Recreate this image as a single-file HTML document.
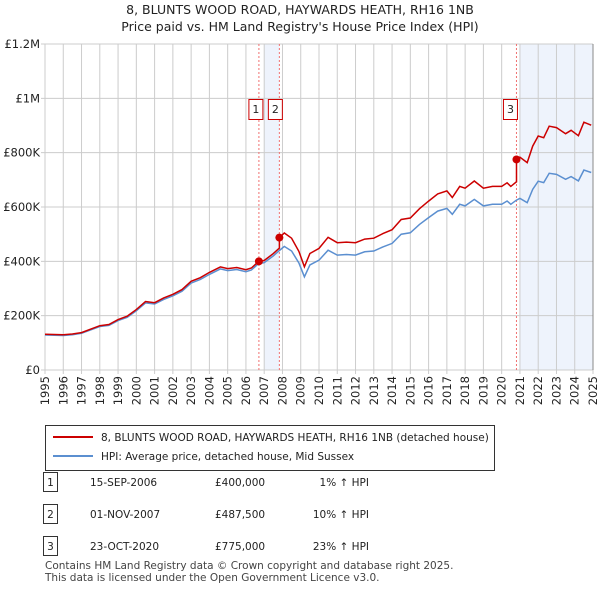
<!DOCTYPE html>
<html><head><meta charset="utf-8"><style>
body{margin:0;background:#fff;font-family:"Liberation Sans","DejaVu Sans",sans-serif;}
#wrap{position:relative;width:600px;height:590px;overflow:hidden;}
svg text{font-family:"DejaVu Sans","Liberation Sans",sans-serif;}
</style></head><body>
<div id="wrap">
<svg id="chart" width="600" height="590"></svg>
</div>
<script>
const hpiYears=[1995,1996,1996.5,1997,1998,1998.5,1999,1999.5,2000,2000.5,2001,2001.5,2002,2002.5,2003,2003.5,2004,2004.6,2005,2005.5,2006,2006.3,2006.7,2007,2007.5,2007.83,2008.1,2008.5,2008.9,2009.2,2009.5,2010,2010.5,2011,2011.5,2012,2012.5,2013,2013.5,2014,2014.5,2015,2015.5,2016,2016.5,2017,2017.3,2017.7,2018,2018.5,2019,2019.5,2020,2020.3,2020.5,2020.8,2021,2021.4,2021.7,2022,2022.3,2022.6,2023,2023.5,2023.8,2024.2,2024.5,2024.9];
const hpiValues=[129,127,130,135,160,164,182,194,218,247,243,260,273,290,320,333,352,372,366,370,362,368,392,395,420,440,455,438,394,343,387,404,441,423,425,423,435,438,453,466,500,505,536,561,585,595,573,610,604,628,604,610,610,622,610,625,632,616,665,695,690,724,720,702,712,696,736,727];
const saleYears=[2006.71,2007.83,2020.81];
const salePrices=[400000,487500,775000];
const saleLabels=["1","2","3"];
const yTicks=[0,200000,400000,600000,800000,1000000,1200000];
const yTickLabels=["£0","£200K","£400K","£600K","£800K","£1M","£1.2M"];
const xTicks=[];for(let y=1995;y<=2025;y++)xTicks.push(y);

const NS="http://www.w3.org/2000/svg";
const svg=document.getElementById('chart');
const X0=45,X1=593,Y0=370,Y1=44;
const xs=y=>X0+(y-1995)/30*(X1-X0);
const ys=v=>Y0-v/1200000*(Y0-Y1);
function el(t,a,p){const e=document.createElementNS(NS,t);for(const k in a)e.setAttribute(k,a[k]);(p||svg).appendChild(e);return e;}
function interp(y){for(let i=1;i<hpiYears.length;i++){if(y<=hpiYears[i]){const t=(y-hpiYears[i-1])/(hpiYears[i]-hpiYears[i-1]);return hpiValues[i-1]+t*(hpiValues[i]-hpiValues[i-1]);}}return hpiValues[hpiValues.length-1];}

let t=el('text',{x:300,y:14,'text-anchor':'middle','font-size':12.5,fill:'#222'});t.textContent="8, BLUNTS WOOD ROAD, HAYWARDS HEATH, RH16 1NB";

t=el('text',{x:300,y:31,'text-anchor':'middle','font-size':12.5,fill:'#222'});t.textContent="Price paid vs. HM Land Registry's House Price Index (HPI)";


let r=el('rect',{x:xs(2007),y:Y1,width:xs(saleYears[1])-xs(2007),height:Y0-Y1,fill:'#eef3fc'});

r=el('rect',{x:xs(2021),y:Y1,width:X1-xs(2021),height:Y0-Y1,fill:'#eef3fc'});


xTicks.forEach((y,i)=>{const l=el('line',{x1:xs(y),x2:xs(y),y1:Y1,y2:Y0+4,stroke:'#ccc','stroke-width':1});

const tx=el('text',{transform:`translate(${xs(y)+4},${Y0+6}) rotate(-90)`,'text-anchor':'end','font-size':11.5,fill:'#222'});tx.textContent=y;
});
yTicks.forEach((v,i)=>{const l=el('line',{x1:X0-4,x2:X1,y1:ys(v),y2:ys(v),stroke:'#ccc','stroke-width':1});

const tx=el('text',{x:40,y:ys(v)+4,'text-anchor':'end','font-size':11.5,fill:'#222'});tx.textContent=yTickLabels[i];
});
let ax=el('line',{x1:X1,x2:X1,y1:Y1,y2:Y0,stroke:'#888'});

const boxOffsets=[-10,-11,-13];
saleYears.forEach((y,i)=>{const l=el('line',{x1:xs(y),x2:xs(y),y1:Y1,y2:Y0,stroke:'#f07070','stroke-dasharray':'2,2'});

const bx=xs(y)+boxOffsets[i];
const b=el('rect',{x:bx,y:99.5,width:14,height:20,fill:'#fff',stroke:'#cc0000'});

const tx=el('text',{x:bx+7,y:113,'text-anchor':'middle','font-size':11,fill:'#222'});tx.textContent=saleLabels[i];
});

let d=hpiYears.map((y,i)=>(i?'L':'M')+xs(y).toFixed(1)+','+ys(hpiValues[i]*1000).toFixed(1)).join('');
let p=el('path',{d,fill:'none',stroke:'#5b8fd0','stroke-width':1.5});

function factorAt(y){let f=salePrices[0]/1000/interp(saleYears[0]);for(let i=0;i<saleYears.length;i++){if(y>=saleYears[i])f=salePrices[i]/1000/interp(saleYears[i]);}return f;}
let pts=[];
hpiYears.forEach((y,i)=>{saleYears.forEach((s,j)=>{if(s>(i?hpiYears[i-1]:0)&&s<=y){const pv=j?salePrices[j-1]/1000/interp(saleYears[j-1])*interp(s):interp(s)*factorAt(s-0.001);pts.push([s,pv]);pts.push([s,salePrices[j]/1000]);}});pts.push([y,hpiValues[i]*factorAt(y)]);});
d=pts.map((q,i)=>(i?'L':'M')+xs(q[0]).toFixed(1)+','+ys(q[1]*1000).toFixed(1)).join('');
p=el('path',{d,fill:'none',stroke:'#cc0000','stroke-width':1.5});

saleYears.forEach((y,i)=>{const c=el('circle',{cx:xs(y),cy:ys(salePrices[i]),r:4,fill:'#cc0000'});
});

const lg=el('g',{});
el('rect',{x:45.5,y:425.5,width:449,height:45,fill:'#fff',stroke:'#333'},lg);
el('line',{x1:53,x2:93,y1:437,y2:437,stroke:'#cc0000','stroke-width':2},lg);
t=el('text',{x:101,y:441,'font-size':10.5,fill:'#222'},lg);t.textContent="8, BLUNTS WOOD ROAD, HAYWARDS HEATH, RH16 1NB (detached house)";

el('line',{x1:53,x2:93,y1:456,y2:456,stroke:'#5b8fd0','stroke-width':2},lg);
t=el('text',{x:101,y:460,'font-size':10.5,fill:'#222'},lg);t.textContent="HPI: Average price, detached house, Mid Sussex";


const dates=["15-SEP-2006","01-NOV-2007","23-OCT-2020"],prices=["£400,000","£487,500","£775,000"],pct=["1% ↑ HPI","10% ↑ HPI","23% ↑ HPI"];
[482,514,546].forEach((yy,i)=>{el('rect',{x:43.5,y:yy-9.5,width:14,height:19,fill:'#fff',stroke:'#333'});
let a=el('text',{x:50.5,y:yy+4,'text-anchor':'middle','font-size':10.5,fill:'#222'});a.textContent=saleLabels[i];

a=el('text',{x:90,y:yy+4,'font-size':10.5,fill:'#222'});a.textContent=dates[i];
a=el('text',{x:215,y:yy+4,'font-size':10.5,fill:'#222'});a.textContent=prices[i];
a=el('text',{x:369,y:yy+4,'text-anchor':'end','font-size':10.5,fill:'#222'});a.textContent=pct[i];});
t=el('text',{x:45,y:569,'font-size':10.5,fill:'#444'});t.textContent="Contains HM Land Registry data © Crown copyright and database right 2025.";

t=el('text',{x:45,y:581,'font-size':10.5,fill:'#444'});t.textContent="This data is licensed under the Open Government Licence v3.0.";

</script>
</body></html>
